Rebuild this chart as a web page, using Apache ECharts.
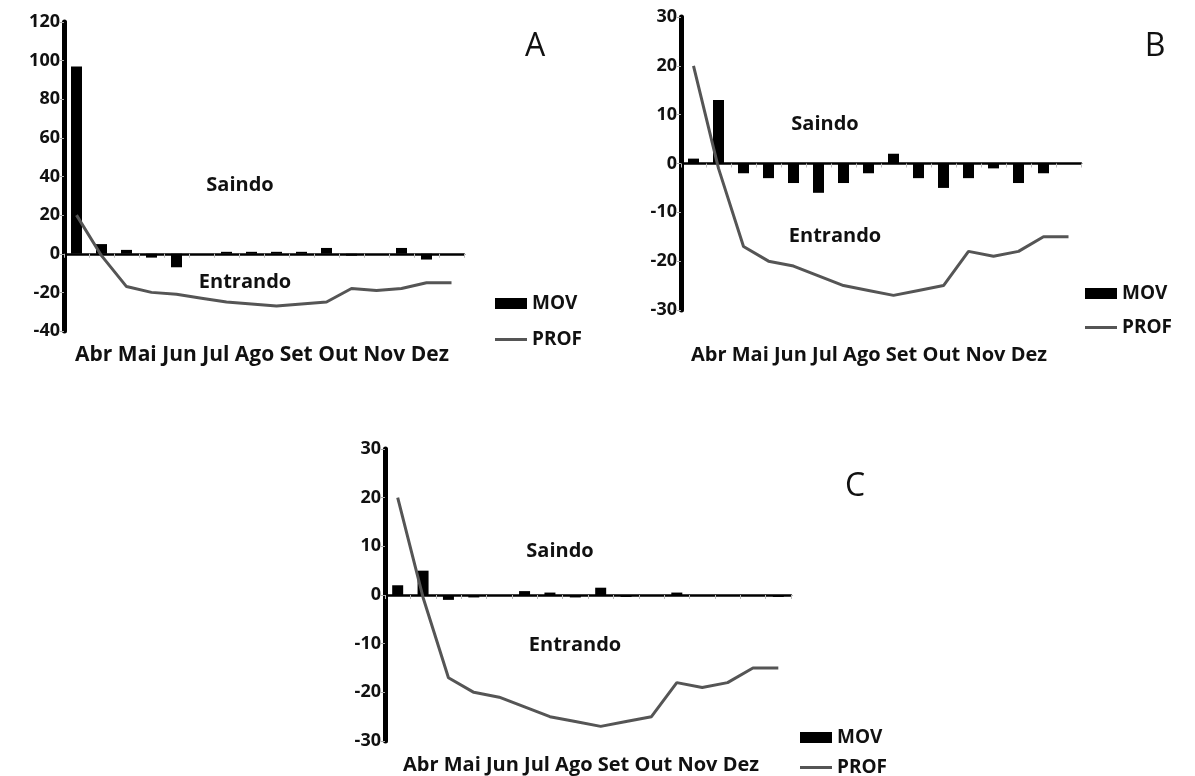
<!DOCTYPE html>
<html>
<head>
<meta charset="utf-8">
<script src="https://cdn.jsdelivr.net/npm/echarts@6/dist/echarts.min.js"></script>
<style>html,body{margin:0;padding:0;background:#fff}#c{width:1195px;height:776px}</style>
</head>
<body>
<div id="c"></div>
<script>
// ---- data ----
var categories = ['1','2','3','4','5','6','7','8','9','10','11','12','13','14','15','16'];
var months = ['Abr','Mai','Jun','Jul','Ago','Set','Out','Nov','Dez'];
var movA = [97, 5, 2, -2, -7, 0, 1, 1, 1, 1, 3, -1, 0, 3, -3, 0];
var profA = [20, -1, -17, -20, -21, -23, -25, -26, -27, -26, -25, -18, -19, -18, -15, -15];
var movB = [1, 13, -2, -3, -4, -6, -4, -2, 2, -3, -5, -3, -1, -4, -2, 0];
var profB = [20, -1, -17, -20, -21, -23, -25, -26, -27, -26, -25, -18, -19, -18, -15, -15];
var movC = [2, 5, -1, -0.5, 0, 0.8, 0.5, -0.5, 1.5, -0.4, 0, 0.5, 0, 0, 0, -0.4];
var profC = [20, -0.5, -17, -20, -21, -23, -25, -26, -27, -26, -25, -18, -19, -18, -15, -15];
var panelLetters = ['A','B','C'];
var zoneLabels = ['Saindo','Entrando'];

var FONT = 'Open Sans';
var chart = echarts.init(document.getElementById('c'));

var grids = [
  {left: 64, top: 22, width: 400, height: 309},
  {left: 681, top: 17, width: 400, height: 293},
  {left: 385, top: 449, width: 406, height: 292}
];
var yRanges = [{min:-40,max:120,interval:20},{min:-30,max:30,interval:10},{min:-30,max:30,interval:10}];

function xAxis(i){
  return {type:'category', gridIndex:i, data:categories, boundaryGap:true,
    axisLine:{onZero:true, lineStyle:{color:'#000', width:2.5}},
    axisTick:{show:true, length:4, lineStyle:{color:'#bbb', width:1}},
    axisLabel:{show:false}, splitLine:{show:false}};
}
function yAxis(i){
  var r = yRanges[i];
  return {type:'value', gridIndex:i, min:r.min, max:r.max, interval:r.interval,
    axisLine:{show:true, onZero:false, lineStyle:{color:'#000', width:5}},
    axisTick:{show:true, length:4, lineStyle:{color:'#aaa', width:1}},
    splitLine:{show:false},
    axisLabel:{color:'#111', fontFamily:FONT, fontWeight:'bold', fontSize:18, margin:4}};
}
function barS(i, d){
  return {name:'MOV', type:'bar', xAxisIndex:i, yAxisIndex:i, data:d, barWidth:11,
    itemStyle:{color:'#000'}, silent:true};
}
function lineS(i, d){
  return {name:'PROF', type:'line', xAxisIndex:i, yAxisIndex:i, data:d, symbol:'none',
    itemStyle:{color:'#555'}, lineStyle:{color:'#555', width:3}, silent:true};
}
function legendPair(left, top1, top2){
  var ts = {color:'#111', fontFamily:FONT, fontWeight:'bold', fontSize:19};
  return [
    {data:['MOV'], left:left, top:top1, icon:'rect', itemWidth:32, itemHeight:11, padding:0, textStyle:ts, selectedMode:false, itemStyle:{borderWidth:0}},
    {data:['PROF'], left:left, top:top2, icon:'rect', itemWidth:32, itemHeight:3, padding:0, textStyle:ts, selectedMode:false, itemStyle:{borderWidth:0}}
  ];
}
function txt(text, x, y, size, weight){
  return {type:'text', x:x, y:y, silent:true,
    style:{text:text, fill:'#111', font: weight + ' ' + size + 'px "' + FONT + '"', textAlign:'center', textVerticalAlign:'middle'}};
}

var monthText = months.join(' ');

chart.setOption({
  animation:false,
  grid:grids,
  xAxis:[xAxis(0), xAxis(1), xAxis(2)],
  yAxis:[yAxis(0), yAxis(1), yAxis(2)],
  legend:[].concat(legendPair(495, 294, 330), legendPair(1085, 284, 318), legendPair(800, 728, 758)),
  series:[barS(0,movA), lineS(0,profA), barS(1,movB), lineS(1,profB), barS(2,movC), lineS(2,profC)],
  graphic:[
    txt(panelLetters[0], 535, 47, 32, 'normal'),
    txt(panelLetters[1], 1155, 47, 32, 'normal'),
    txt(panelLetters[2], 855, 487, 32, 'normal'),
    txt(zoneLabels[0], 240, 185, 20, 'bold'),
    txt(zoneLabels[1], 245, 282, 20, 'bold'),
    txt(zoneLabels[0], 825, 124, 20, 'bold'),
    txt(zoneLabels[1], 835, 236, 20, 'bold'),
    txt(zoneLabels[0], 560, 551, 20, 'bold'),
    txt(zoneLabels[1], 575, 645, 20, 'bold'),
    txt(monthText, 262, 355, 21, 'bold'),
    txt(monthText, 869, 355, 20, 'bold'),
    txt(monthText, 581, 765, 20, 'bold')
  ]
});
</script>
</body>
</html>
